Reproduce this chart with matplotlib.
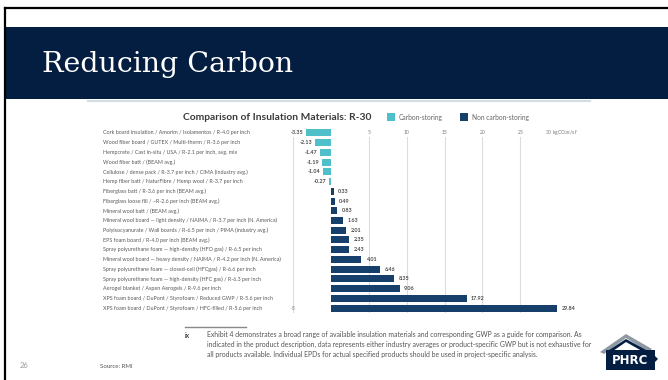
import matplotlib
matplotlib.use("Agg")
import matplotlib.pyplot as plt
from matplotlib.patches import Rectangle, Polygon
from matplotlib.transforms import blended_transform_factory

# data (kgCO2e/sf at R-30)
materials = [
    "Cork board insulation / Amorim / Isolamentos / R-4.0 per inch",
    "Wood fiber board / GUTEX / Multi-therm / R-3.6 per inch",
    "Hempcrete / Cast in-situ / USA / R-2.1 per inch, avg. mix",
    "Wood fiber batt / (BEAM avg.)",
    "Cellulose / dense pack / R-3.7 per inch / CIMA (industry avg.)",
    "Hemp fiber batt / NaturFibre / Hemp wool / R-3.7 per inch",
    "Fiberglass batt / R-3.6 per inch (BEAM avg.)",
    "Fiberglass loose fill / ~R-2.6 per inch (BEAM avg.)",
    "Mineral wool batt / (BEAM avg.)",
    "Mineral wool board \u2014 light density / NAIMA / R-3.7 per inch (N. America)",
    "Polyisocyanurate / Wall boards / R-6.5 per inch / PIMA (industry avg.)",
    "EPS foam board / R-4.0 per inch (BEAM avg.)",
    "Spray polyurethane foam \u2014 high-density (HFO gas) / R-6.5 per inch",
    "Mineral wool board \u2014 heavy density / NAIMA / R-4.2 per inch (N. America)",
    "Spray polyurethane foam \u2014 closed-cell (HFCgas) / R-6.6 per inch",
    "Spray polyurethane foam \u2014 high-density (HFC gas) / R-6.3 per inch",
    "Aerogel blanket / Aspen Aerogels / R-9.6 per inch",
    "XPS foam board / DuPont / Styrofoam / Reduced GWP / R-5.6 per inch",
    "XPS foam board / DuPont / Styrofoam / HFC-filled / R-5.6 per inch",
]
gwp = [-3.35, -2.13, -1.47, -1.19, -1.04, -0.27, 0.33, 0.49, 0.83, 1.63,
       2.01, 2.35, 2.43, 4.01, 6.46, 8.35, 9.06, 17.92, 29.84]
top_ticks = [5, 10, 15, 20, 25, 30]
grid_ticks = [-5, 5, 10, 15, 20, 25, 30]

CYAN = "#4fc0c9"
NAVY = "#163f6b"
BAND = "#041e42"
font = "Lato"

W, H = 668, 380
fig = plt.figure(figsize=(W / 100, H / 100), dpi=100)
fig.patch.set_facecolor("white")

# overlay in pixel coords for slide decoration
ov = fig.add_axes([0, 0, 1, 1])
ov.set_xlim(0, W)
ov.set_ylim(H, 0)
ov.axis("off")

ov.add_patch(Rectangle((6, 27), W - 6, 72, color=BAND, lw=0))
ov.plot([5, 5], [8, H], color="black", lw=1.6)
ov.plot([5, W], [8, 8], color="black", lw=1.6)
ov.plot([88, 590], [100.5, 100.5], color="#d3dde5", lw=1.5)
ov.text(42, 64, "Reducing Carbon", family="DejaVu Serif", fontsize=20.5,
        color="white", va="center", ha="left")

# chart title + legend
ov.text(277, 117, "Comparison of Insulation Materials: R-30", family=font,
        fontweight="bold", fontsize=7.4, color="#3a3a3a", ha="center", va="center")
ov.add_patch(Rectangle((387, 113), 8, 8, color=CYAN, lw=0))
ov.text(399, 117.5, "Carbon-storing", family=font, fontsize=4.8, color="#666666",
        va="center")
ov.add_patch(Rectangle((460, 113), 8, 8, color=NAVY, lw=0))
ov.text(472, 117.5, "Non carbon-storing", family=font, fontsize=4.8, color="#666666",
        va="center")

# main bar chart
ax = fig.add_axes([293.2 / W, 1 - 312.9 / H, 264.8 / W, 184.8 / H])
ax.patch.set_alpha(0)
ax.set_xlim(-5, 30)
ax.set_ylim(len(gwp) - 0.5, -0.5)
ax.axis("off")

for g in grid_ticks:
    ax.plot([g, g], [0.45, len(gwp) - 0.5], color="#dcdcdc", lw=0.8, zorder=0)
for t in top_ticks:
    lbl = str(t) if t != 30 else "30 kgCO$_2$e/sf"
    ax.text(t if t != 30 else t + 0.5, 0, lbl, family=font, fontsize=3.6,
            color="#777777", ha="center", va="center")
ax.text(-5, len(gwp) - 1, "-5", family=font, fontsize=3.6, color="#777777",
        ha="center", va="center")

rows = list(range(len(gwp)))
colors = [CYAN if v < 0 else NAVY for v in gwp]
ax.barh(rows, gwp, height=0.72, color=colors, zorder=2)
for r, v in zip(rows, gwp):
    if v < 0:
        ax.text(v - 0.35, r, f"{v:.2f}", family=font, fontweight="bold", fontsize=3.9,
                color="#4a4a4a", ha="right", va="center")
    else:
        ax.text(v + 0.6, r, f"{v:.2f}", family=font, fontweight="bold", fontsize=3.9,
                color="#4a4a4a", ha="left", va="center")

lab_tr = blended_transform_factory(ov.transData, ax.transData)
for r, m in zip(rows, materials):
    ax.text(103, r, m, transform=lab_tr, family=font, fontsize=3.85, color="#5a5a5a",
            ha="left", va="center")

# footnote
ov.plot([185, 246], [327, 327], color="#888888", lw=1.0)
ov.text(185, 335, "ix", family=font, fontweight="bold", fontsize=4.8, color="#444444",
        va="center")
foot = [
    "Exhibit 4 demonstrates a broad range of available insulation materials and corresponding GWP as a guide for comparison. As",
    "indicated in the product description, data represents either industry averages or product-specific GWP but is not exhaustive for",
    "all products available. Individual EPDs for actual specified products should be used in project-specific analysis.",
]
for i, line in enumerate(foot):
    ov.text(207, 335 + i * 9.8, line, family=font, fontsize=4.95, color="#555555",
            va="center")
ov.text(20, 366, "26", family=font, fontsize=5.5, color="#999999", va="center")
ov.text(100, 366, "Source: RMI", family=font, fontsize=4.4, color="#555555", va="center")

# PHRC logo
ov.add_patch(Polygon([(600, 352), (626, 334), (652, 349), (648, 352), (626, 338), (604, 354)],
                     closed=True, color="#8e99a4", lw=0))
ov.add_patch(Polygon([(606, 352), (626, 339), (646, 350), (642, 351), (626, 342), (610, 353)],
                     closed=True, color=BAND, lw=0))
ov.add_patch(Polygon([(606, 350), (655, 350), (655, 356), (658, 359), (655, 362),
                      (655, 370), (606, 370)], closed=True, color=BAND, lw=0))
ov.text(630, 360.5, "PHRC", family="DejaVu Sans", fontweight="bold", fontsize=8.5,
        color="white", ha="center", va="center")

fig.savefig("out.png", dpi=100)
